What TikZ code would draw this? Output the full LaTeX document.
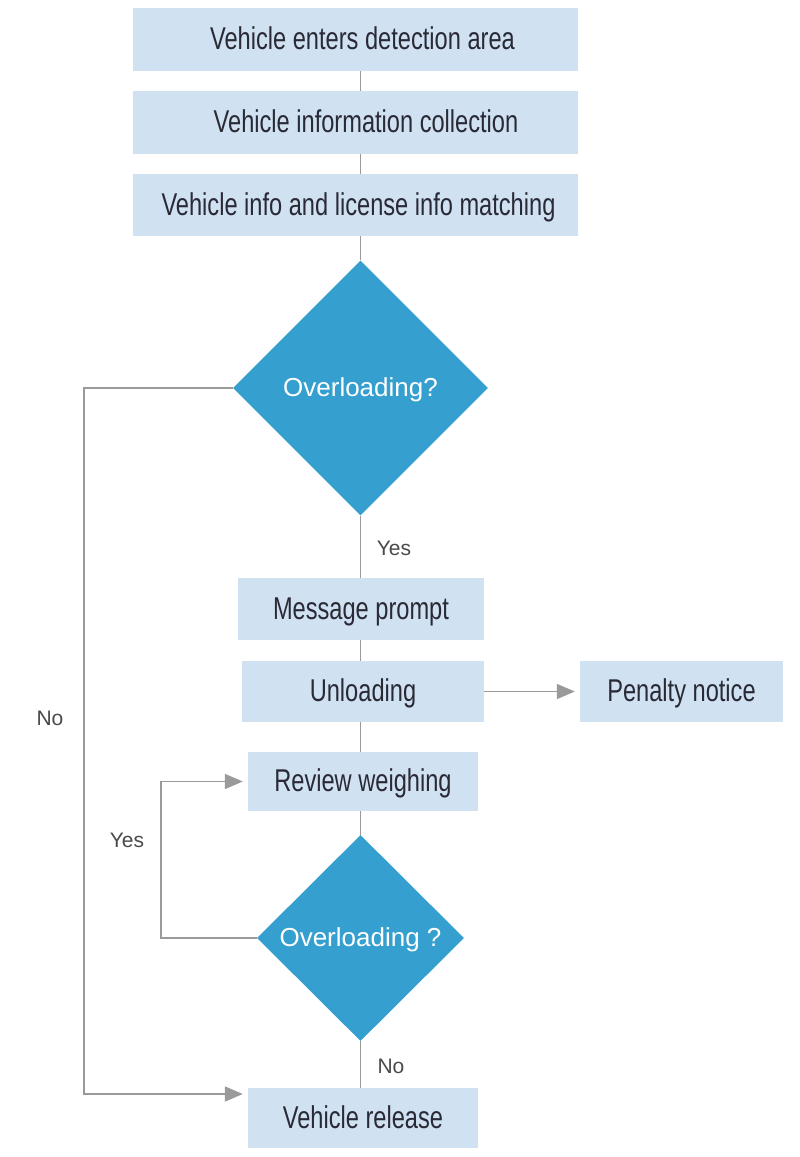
\documentclass[tikz,border=0pt]{standalone}
\usepackage{fontspec}
\setmainfont{Liberation Sans}
\newfontfamily\boxfont{Liberation Sans}[FakeStretch=0.75]
\usetikzlibrary{shapes.geometric,arrows.meta,calc}
\definecolor{boxfill}{HTML}{D0E1F2}
\definecolor{decfill}{HTML}{35A0D0}
\definecolor{boxtext}{HTML}{2A2A36}
\definecolor{linecol}{HTML}{9A9A9A}
\definecolor{lbltext}{HTML}{4A4A4A}
\tikzset{
  stepbox/.style={rectangle, fill=boxfill, text=boxtext, inner sep=0pt,
    text height=24pt, text depth=4pt,
    font=\boxfont\fontsize{31.5}{36}\selectfont},
  decision/.style={diamond, fill=decfill, text=white, inner sep=0pt,
    text height=19pt, text depth=3pt,
    font=\fontsize{26}{30}\selectfont},
  lbl/.style={text=lbltext, inner sep=0pt, font=\fontsize{21}{24}\selectfont},
  conn/.style={draw=linecol, line width=1.8pt},
  arr/.style={conn, -{Triangle[length=18pt,width=15pt]}, shorten >=5pt},
}
\begin{document}
\begin{tikzpicture}[x=1pt,y=-1pt]
\useasboundingbox[fill=white] (0,0) rectangle (800,1157);
% boxes
\node[stepbox, minimum width=445pt, minimum height=63pt] (b1) at (355.5,39.5) {\hspace*{14pt}Vehicle enters detection area};
\node[stepbox, minimum width=445pt, minimum height=63pt] (b2) at (355.5,122.5) {\hspace*{21pt}Vehicle information collection};
\node[stepbox, minimum width=445pt, minimum height=62pt] (b3) at (355.5,205) {\hspace*{6pt}Vehicle info and license info matching};
\node[decision, minimum width=255pt, minimum height=255pt] (d1) at (360.5,388) {Overloading?};
\node[stepbox, minimum width=246pt, minimum height=62pt] (msg) at (361,609) {Message prompt};
\node[stepbox, minimum width=242pt, minimum height=61pt] (unl) at (363,691.5) {Unloading};
\node[stepbox, minimum width=203pt, minimum height=61pt] (pen) at (681.5,691.5) {Penalty notice};
\node[stepbox, minimum width=230pt, minimum height=59pt] (rev) at (363,781.5) {Review weighing};
\node[decision, minimum width=207pt, minimum height=206pt] (d2) at (360.5,938) {Overloading ?};
\node[stepbox, minimum width=230pt, minimum height=60pt] (rel) at (363,1118) {Vehicle release};
% labels
\node[lbl] (yes1) at (394,548) {Yes};
\node[lbl] (no1) at (50,718) {No};
\node[lbl] (yes2) at (127,840) {Yes};
\node[lbl] (no2) at (391,1066) {No};
% connectors
\draw[conn] (b1.south -| d1) -- (b2.north -| d1);
\draw[conn] (b2.south -| d1) -- (b3.north -| d1);
\draw[conn] (b3.south -| d1) -- (d1.north);
\draw[conn] (d1.south) -- (msg.north -| d1);
\draw[conn] (msg.south -| d1) -- (unl.north -| d1);
\draw[conn] (unl.south -| d1) -- (rev.north -| d1);
\draw[conn] (rev.south -| d1) -- (d2.north);
\draw[conn] (d2.south) -- (rel.north -| d1);
\draw[arr] (unl.east) -- (pen.west);
\coordinate (yescorner) at (161,781.5);
\draw[arr] (d2.west) -| (yescorner) -- (rev.west);
\coordinate (nocorner) at (84,1094);
\draw[arr] (d1.west) -| (nocorner) -- ([yshift=24pt]rel.west);
\end{tikzpicture}
\end{document}
